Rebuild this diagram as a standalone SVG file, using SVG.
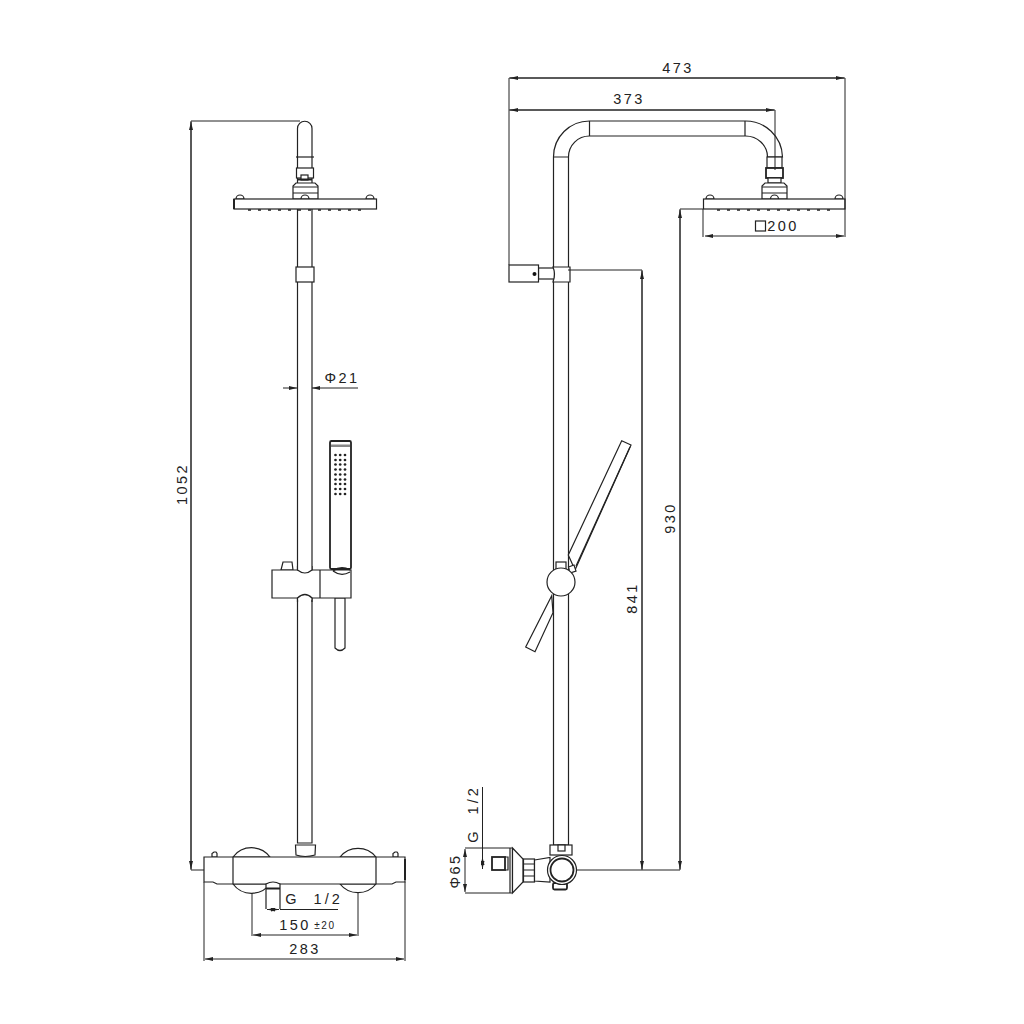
<svg xmlns="http://www.w3.org/2000/svg" width="1024" height="1024" viewBox="0 0 1024 1024">
<style>
.o{fill:none;stroke:#222;stroke-width:1.2}
.w{fill:#fff;stroke:#222;stroke-width:1.2}
.h{fill:#fff;stroke:#222;stroke-width:1.8}
.k{fill:none;stroke:#222;stroke-width:2}
.d{fill:none;stroke:#222;stroke-width:1}
.dd{fill:none;stroke:#222;stroke-width:1.6;stroke-dasharray:3 7}
text{font-family:"Liberation Sans",Arial,sans-serif;font-size:14.5px;fill:#222;letter-spacing:2.4px;text-anchor:middle}
.s{font-size:10px;letter-spacing:1.6px}
.g{letter-spacing:3px}
</style>
<defs>
<marker id="a" viewBox="0 0 8 4" refX="8" refY="2" markerWidth="8" markerHeight="4" markerUnits="userSpaceOnUse" orient="auto-start-reverse"><path d="M0 0L8 2L0 4Z" fill="#222"/></marker>
<g id="dr"><circle cx="335.500" cy="0" r="1.350"/><circle cx="340.200" cy="0" r="1.350"/><circle cx="345" cy="0" r="1.350"/></g>
</defs>
<g id="front-rail">
<path class="w" d="M297.500 843V128.500a7.200 7.200 0 0 1 14.500 0V843Z"/>
<path class="o" d="M296 157H314"/>
<rect class="w" x="296" y="267" width="18" height="15"/>
</g>
<g id="front-head">
<rect class="w" x="296.500" y="168" width="17" height="10"/>
<rect class="w" x="301" y="175" width="7" height="5"/>
<path class="k" d="M298 179.500H312"/>
<path class="w" d="M293 199V186L296 183H315L318 186V199Z"/>
<path class="o" d="M293 187H318M293 193H318"/>
<path class="w" d="M236 199a4 4 0 0 1 8 0ZM301 199a4 4 0 0 1 8 0ZM366 199a4 4 0 0 1 8 0Z"/>
<rect class="w" x="234" y="199" width="142.500" height="10"/>
<path class="k" d="M234 199V209"/>
<path class="dd" d="M248 210H368"/>
</g>
<g id="front-handshower">
<rect class="h" x="330" y="441" width="21" height="128" rx="1.500"/>
<rect x="331" y="444.500" width="19" height="2.500" fill="#888"/>
<g fill="#222">
<use href="#dr" y="455"/><use href="#dr" y="460"/><use href="#dr" y="464.500"/><use href="#dr" y="469.500"/><use href="#dr" y="474.500"/><use href="#dr" y="479.500"/><use href="#dr" y="484"/><use href="#dr" y="489"/><use href="#dr" y="494"/>
</g>
<path class="w" d="M335 598V648q5 5 10 0V598Z"/>
</g>
<g id="front-slider">
<path class="w" d="M281 570L283 562H292L293 570Z"/>
<path class="w" d="M272 570H351V598H272Z"/>
<path fill="#fff" stroke="none" d="M298 566H312V573Q305 575 298 572ZM298 600H312V594Q305 592 298 595Z"/>
<path class="o" d="M297.500 566V570Q305 576 312 570V566M297.500 602V598Q305 591 312 598V602M320 570V598"/>
<path class="o" d="M333 571Q341 565 350 570M333 571Q341 577 350 572"/>
</g>
<g id="front-valve">
<path class="w" d="M233 857A23 23 0 0 1 270 857ZM340 857A23 23 0 0 1 376 857Z"/>
<path class="w" d="M233 884A23 23 0 0 0 270 884ZM340 884A23 23 0 0 0 376 884Z"/>
<path class="w" d="M212 857V853.500L214 852H216L217 853.500V857ZM393 857V853.500L395 852H397L398 853.500V857Z"/>
<path class="w" d="M204 857H405V882H396L392 884H217L213 882H204Z"/>
<path class="o" d="M233 857V884M376 857V884"/>
<path class="k" d="M405 859V880"/>
<path class="w" d="M296 855L295.500 845H315.500L315 855Q305 858 296 855Z"/>
<path class="w" d="M266 909V884Q273 880 280 884V909"/>
<path class="k" d="M266 888.500H280"/>
</g>
<g id="side-rail">
<path class="w" d="M553.500 845V157A36 36 0 0 1 589.500 121H745A37 37 0 0 1 782.500 157H767.500A22 21 0 0 0 745 136H589.500A21 21 0 0 0 568.500 157V845Z"/>
<path class="o" d="M553.500 157H568.500M589.500 121V136M745 121V136"/>
<rect class="w" x="538.500" y="268" width="16" height="11"/>
<rect class="w" x="509" y="265" width="29.500" height="17"/>
<circle cx="534.500" cy="274" r="2" fill="#111"/>
<path class="w" d="M553 267H570V282H553Q556 274 553 267Z"/>
</g>
<g id="side-head">
<rect class="w" x="767" y="157" width="15" height="11"/>
<rect class="h" x="766" y="168" width="17" height="10"/>
<rect class="w" x="768" y="178" width="13" height="5"/>
<path class="w" d="M762 199V186L765 183H784L787 186V199Z"/>
<path class="o" d="M762 187H787M762 193H787"/>
<path class="w" d="M706 199a4 4 0 0 1 8 0ZM770.500 199a4 4 0 0 1 8 0ZM835 199a4 4 0 0 1 8 0Z"/>
<rect class="w" x="703.500" y="199" width="141.500" height="10"/>
<path class="dd" d="M717 210H835"/>
</g>
<g id="side-handshower">
<path class="w" d="M568.300 555L621.700 440.700L631 445L575 570Z"/>
<path class="o" d="M576 566L630 447"/>
<path class="w" d="M551.700 595.700L525.700 647L535 651.700L553 612.700Z"/>
<path class="w" d="M568.500 567L574 565L576 571L570 573Z"/>
<rect class="w" x="556" y="562" width="10" height="9"/>
<circle class="w" cx="561" cy="582" r="14"/>
</g>
<g id="side-valve">
<path class="o" d="M510 848V893M512.500 848V893"/>
<path class="w" d="M512.500 848L523 859V882L512.500 893Z"/>
<rect class="h" x="492" y="857" width="13" height="13"/>
<path class="o" d="M505 857H508V870H505"/>
<rect class="w" x="523.500" y="859" width="11" height="23"/>
<path class="o" d="M523.500 864H534.500M523.500 870H534.500M523.500 876H534.500"/>
<path class="w" d="M534.500 860L550 857.500V882L534.500 881Z"/>
<rect class="h" x="553" y="883" width="14" height="6.500" rx="1.500"/>
<rect class="w" x="550" y="845" width="22" height="10"/>
<rect class="w" x="558" y="845" width="7" height="6"/>
<circle class="w" cx="562" cy="870" r="14.500"/>
<circle class="h" cx="562" cy="870" r="11.500"/>
</g>
<g id="connectors">
<path class="d" d="M300 121H191V870H204"/>
<path class="d" d="M191 122V869" marker-start="url(#a)" marker-end="url(#a)"/>
<path class="d" d="M204 882V961M405 882V961M252 893V936M358 893V936"/>
<path class="d" d="M205 959H404" marker-start="url(#a)" marker-end="url(#a)"/>
<path class="d" d="M253 935H357" marker-start="url(#a)" marker-end="url(#a)"/>
<path class="d" d="M267 909.500H279" marker-start="url(#a)" marker-end="url(#a)"/>
<path class="d" d="M280 909.500H338"/>
<path class="d" d="M283 388H297" marker-end="url(#a)"/>
<path class="d" d="M358 388H312" marker-end="url(#a)"/>
<path class="d" d="M509 265V78H845V209M509 110H775V170"/>
<path class="d" d="M510 78H844" marker-start="url(#a)" marker-end="url(#a)"/>
<path class="d" d="M510 110H774" marker-start="url(#a)" marker-end="url(#a)"/>
<path class="d" d="M703 209V237M845 209V237"/>
<path class="d" d="M705 236H844" marker-start="url(#a)" marker-end="url(#a)"/>
<path class="d" d="M568 270H642V870M703 209H680V870M577 870H680"/>
<path class="d" d="M642 271V869" marker-start="url(#a)" marker-end="url(#a)"/>
<path class="d" d="M680 210V869" marker-start="url(#a)" marker-end="url(#a)"/>
<path class="d" d="M465 848H512M465 893H512"/>
<path class="d" d="M465 849V892" marker-start="url(#a)" marker-end="url(#a)"/>
<path class="d" d="M482.500 787V857"/>
<path class="d" d="M482.500 857V869" marker-start="url(#a)" marker-end="url(#a)"/>
</g>
<g id="labels">
<text x="678" y="73">473</text>
<text x="629" y="104">373</text>
<rect x="755.500" y="221" width="10" height="10" class="o"/>
<text x="783" y="231">200</text>
<text x="342" y="383">Φ21</text>
<text transform="translate(187 484) rotate(-90)">1052</text>
<text transform="translate(675 518) rotate(-90)">930</text>
<text transform="translate(637 598) rotate(-90)">841</text>
<text transform="translate(460 871) rotate(-90)">Φ65</text>
<text class="g" transform="translate(478 814) rotate(-90)" xml:space="preserve">G  1/2</text>
<text class="g" x="314" y="904" xml:space="preserve">G  1/2</text>
<text x="295" y="930">150</text>
<text class="s" x="325" y="929">±20</text>
<text x="305" y="954">283</text>
</g>
</svg>
